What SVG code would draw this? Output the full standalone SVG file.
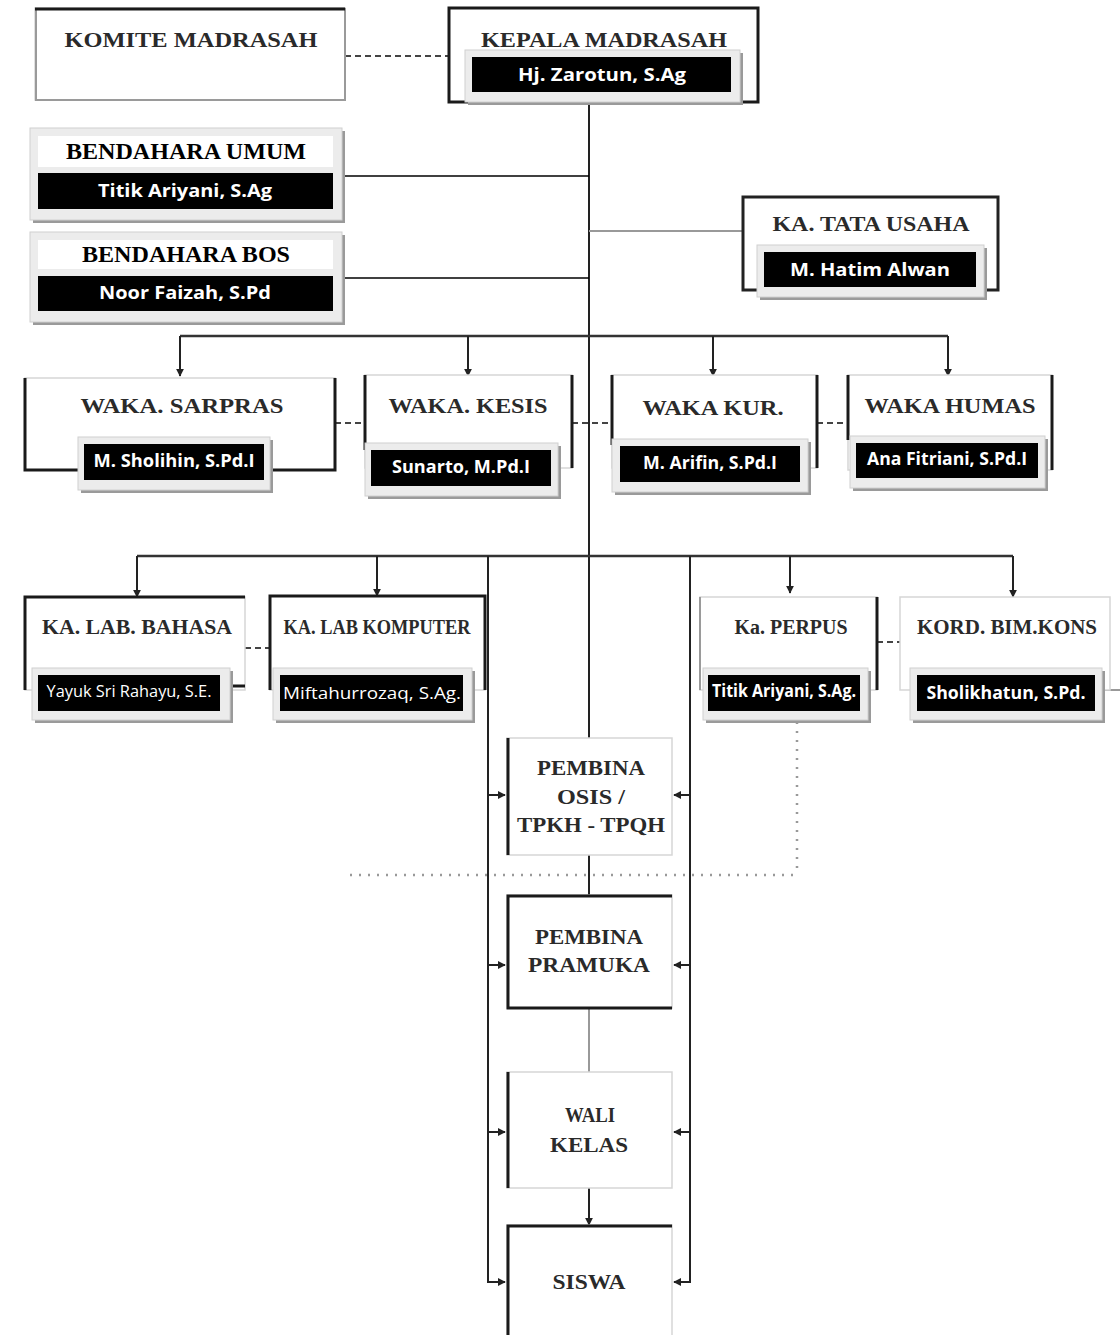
<svg xmlns="http://www.w3.org/2000/svg" width="1120" height="1335" viewBox="0 0 1120 1335">
<style>
.t{font-family:"Liberation Serif","Times New Roman",serif;font-weight:bold;fill:#2a2a2a;text-anchor:middle;font-size:20px}
.bt{font-family:"Liberation Serif","Times New Roman",serif;font-weight:bold;fill:#000;text-anchor:middle;font-size:23px}
.n{font-family:"Open Sans","Liberation Sans",sans-serif;font-weight:bold;fill:#fff;text-anchor:middle;font-size:18px}
.nr{font-family:"Open Sans","Liberation Sans",sans-serif;font-weight:normal;fill:#fff;text-anchor:middle;font-size:17px}
.fr{fill:#ececec;stroke:#d0d0d0;stroke-width:1}
.sh{fill:#9a9a9a}
.blk{fill:#000}
.bx{fill:#fff;stroke:#d6d6d6;stroke-width:1.5}
.e{stroke:#1a1a1a;stroke-width:3;fill:none}
.eg{stroke:#9a9a9a;stroke-width:2;fill:none}
.c{stroke:#222;stroke-width:2;fill:none}
.cg{stroke:#999;stroke-width:2;fill:none}
.d{stroke:#444;stroke-width:2;fill:none;stroke-dasharray:6 4}
.dot{stroke:#999;stroke-width:2.5;fill:none;stroke-dasharray:2 7}
</style>
<defs>
<marker id="ar" viewBox="0 0 10 10" refX="9" refY="5" markerWidth="4" markerHeight="4" orient="auto">
<path d="M0,0 L10,5 L0,10 z" fill="#222"/>
</marker>
</defs>
<rect width="1120" height="1335" fill="#fff"/>

<g id="connectors">
<line class="d" x1="345" y1="56" x2="449" y2="56"/>
<line class="c" x1="589" y1="102" x2="589" y2="738"/>
<line x1="338" y1="176" x2="589" y2="176" stroke="#000" stroke-width="1.5"/>
<line x1="338" y1="278" x2="589" y2="278" stroke="#000" stroke-width="1.5"/>
<line class="cg" x1="589" y1="231" x2="743" y2="231"/>
<line x1="180" y1="336" x2="948" y2="336" stroke="#333" stroke-width="2.5"/>
<line class="c" x1="180" y1="336" x2="180" y2="376" marker-end="url(#ar)"/>
<line class="c" x1="468" y1="336" x2="468" y2="376" marker-end="url(#ar)"/>
<line class="c" x1="713" y1="336" x2="713" y2="376" marker-end="url(#ar)"/>
<line class="c" x1="948" y1="336" x2="948" y2="376" marker-end="url(#ar)"/>
<line class="d" x1="335" y1="423" x2="365" y2="423"/>
<line class="d" x1="572" y1="423" x2="612" y2="423"/>
<line class="d" x1="817" y1="423" x2="848" y2="423"/>
<line x1="137" y1="556" x2="1013" y2="556" stroke="#333" stroke-width="2.5"/>
<line class="c" x1="137" y1="556" x2="137" y2="597" marker-end="url(#ar)"/>
<line class="c" x1="377" y1="556" x2="377" y2="596" marker-end="url(#ar)"/>
<line class="c" x1="790" y1="556" x2="790" y2="593" marker-end="url(#ar)"/>
<line class="c" x1="1013" y1="556" x2="1013" y2="597" marker-end="url(#ar)"/>
<path class="c" d="M488,556 V1282 H505" marker-end="url(#ar)"/>
<path class="c" d="M690,556 V1282 H674" marker-end="url(#ar)"/>
<line class="c" x1="488" y1="795" x2="505" y2="795" marker-end="url(#ar)"/>
<line class="c" x1="690" y1="795" x2="674" y2="795" marker-end="url(#ar)"/>
<line class="c" x1="488" y1="965" x2="505" y2="965" marker-end="url(#ar)"/>
<line class="c" x1="690" y1="965" x2="674" y2="965" marker-end="url(#ar)"/>
<line class="c" x1="488" y1="1132" x2="505" y2="1132" marker-end="url(#ar)"/>
<line class="c" x1="690" y1="1132" x2="674" y2="1132" marker-end="url(#ar)"/>
<line class="c" x1="589" y1="855" x2="589" y2="895"/>
<line class="cg" x1="589" y1="1008" x2="589" y2="1072"/>
<line class="c" x1="589" y1="1188" x2="589" y2="1225" marker-end="url(#ar)"/>
<line class="d" x1="245" y1="648" x2="270" y2="648"/>
<line class="d" x1="877" y1="642" x2="900" y2="642"/>
<line class="dot" x1="797" y1="722" x2="797" y2="875"/>
<line class="dot" x1="350" y1="875" x2="797" y2="875"/>
<line class="cg" x1="1102" y1="690" x2="1120" y2="690"/>
</g>

<g id="komite">
<rect class="bx" x="35" y="8" width="310" height="92"/>
<path class="eg" d="M36,8 V100 H345 V8"/>
<line class="e" x1="35" y1="9" x2="345" y2="9"/>
<text class="t" x="191" y="47" textLength="253" lengthAdjust="spacingAndGlyphs">KOMITE MADRASAH</text>
</g>

<g id="kepala">
<rect x="449" y="8" width="309" height="94" fill="#fff" stroke="#1a1a1a" stroke-width="3"/>
<text class="t" x="604" y="47" textLength="246" lengthAdjust="spacingAndGlyphs">KEPALA MADRASAH</text>
<rect class="sh" x="468" y="53" width="275" height="52"/>
<rect class="fr" x="465" y="50" width="275" height="52"/>
<rect class="blk" x="472" y="57" width="259" height="35"/>
<text class="n" x="602" y="81" font-size="20" textLength="168" lengthAdjust="spacingAndGlyphs">Hj. Zarotun, S.Ag</text>
</g>

<g id="bendahara-umum">
<rect class="sh" x="33" y="131" width="312" height="92"/>
<rect class="fr" x="30" y="128" width="312" height="92"/>
<rect x="38" y="136" width="295" height="31" fill="#fff"/>
<text class="bt" x="186" y="159" textLength="240" lengthAdjust="spacingAndGlyphs">BENDAHARA UMUM</text>
<rect class="blk" x="38" y="173" width="295" height="36"/>
<text class="n" x="185" y="197" font-size="20" textLength="174" lengthAdjust="spacingAndGlyphs">Titik Ariyani, S.Ag</text>
</g>

<g id="bendahara-bos">
<rect class="sh" x="33" y="235" width="312" height="90"/>
<rect class="fr" x="30" y="232" width="312" height="90"/>
<rect x="38" y="240" width="295" height="29" fill="#fff"/>
<text class="bt" x="186" y="262" textLength="208" lengthAdjust="spacingAndGlyphs">BENDAHARA BOS</text>
<rect class="blk" x="38" y="276" width="295" height="35"/>
<text class="n" x="185" y="299" font-size="20" textLength="172" lengthAdjust="spacingAndGlyphs">Noor Faizah, S.Pd</text>
</g>

<g id="tata-usaha">
<rect x="743" y="197" width="255" height="93" fill="#fff" stroke="#222" stroke-width="3"/>
<text class="t" x="871" y="231" font-size="17" textLength="197" lengthAdjust="spacingAndGlyphs">KA. TATA USAHA</text>
<rect class="sh" x="760" y="248" width="227" height="52"/>
<rect class="fr" x="757" y="245" width="227" height="52"/>
<rect class="blk" x="764" y="252" width="212" height="35"/>
<text class="n" x="870" y="276" font-size="19" textLength="160" lengthAdjust="spacingAndGlyphs">M. Hatim Alwan</text>
</g>

<g id="waka-sarpras">
<rect class="bx" x="25" y="378" width="310" height="92"/>
<path class="e" d="M25,378 V470 H335 V378"/>
<text class="t" x="182" y="413" textLength="203" lengthAdjust="spacingAndGlyphs">WAKA. SARPRAS</text>
<rect class="sh" x="81" y="440" width="192" height="53"/>
<rect class="fr" x="78" y="437" width="192" height="53"/>
<rect class="blk" x="84" y="444" width="180" height="36"/>
<text class="n" x="174" y="467" font-size="17" textLength="161" lengthAdjust="spacingAndGlyphs">M. Sholihin, S.Pd.I</text>
</g>

<g id="waka-kesis">
<rect class="bx" x="365" y="375" width="207" height="93"/>
<line class="e" x1="365" y1="375" x2="365" y2="450"/>
<line class="e" x1="572" y1="375" x2="572" y2="468"/>
<text class="t" x="468" y="413" textLength="159" lengthAdjust="spacingAndGlyphs">WAKA. KESIS</text>
<rect class="sh" x="368" y="446" width="193" height="53"/>
<rect class="fr" x="365" y="443" width="193" height="53"/>
<rect class="blk" x="371" y="450" width="180" height="36"/>
<text class="n" x="461" y="473" font-size="17" textLength="138" lengthAdjust="spacingAndGlyphs">Sunarto, M.Pd.I</text>
</g>

<g id="waka-kur">
<rect class="bx" x="612" y="375" width="205" height="93"/>
<line class="e" x1="612" y1="375" x2="612" y2="445"/>
<line class="e" x1="817" y1="375" x2="817" y2="468"/>
<text class="t" x="713" y="415" textLength="141" lengthAdjust="spacingAndGlyphs">WAKA KUR.</text>
<rect class="sh" x="615" y="442" width="196" height="53"/>
<rect class="fr" x="612" y="439" width="196" height="53"/>
<rect class="blk" x="620" y="446" width="180" height="36"/>
<text class="n" x="710" y="469" font-size="17" textLength="134" lengthAdjust="spacingAndGlyphs">M. Arifin, S.Pd.I</text>
</g>

<g id="waka-humas">
<rect class="bx" x="848" y="375" width="204" height="95"/>
<line class="e" x1="848" y1="375" x2="848" y2="440"/>
<line class="e" x1="1052" y1="375" x2="1052" y2="470"/>
<text class="t" x="950" y="413" textLength="171" lengthAdjust="spacingAndGlyphs">WAKA HUMAS</text>
<rect class="sh" x="853" y="439" width="195" height="52"/>
<rect class="fr" x="850" y="436" width="195" height="52"/>
<rect class="blk" x="856" y="443" width="182" height="35"/>
<text class="n" x="947" y="465" font-size="17" textLength="160" lengthAdjust="spacingAndGlyphs">Ana Fitriani, S.Pd.I</text>
</g>

<g id="lab-bahasa">
<rect class="bx" x="25" y="597" width="220" height="93"/>
<path class="e" d="M25,690 V597 H245"/>
<line class="e" x1="230" y1="686" x2="245" y2="686"/>
<text class="t" x="137" y="634" textLength="190" lengthAdjust="spacingAndGlyphs">KA. LAB. BAHASA</text>
<rect class="sh" x="35" y="671" width="198" height="52"/>
<rect class="fr" x="32" y="668" width="198" height="52"/>
<rect class="blk" x="38" y="675" width="182" height="36"/>
<text class="nr" x="129" y="697" font-size="16" textLength="165" lengthAdjust="spacingAndGlyphs">Yayuk Sri Rahayu, S.E.</text>
</g>

<g id="lab-komputer">
<rect class="bx" x="270" y="596" width="215" height="94"/>
<path class="e" d="M270,690 V596 H485 V690"/>
<text class="t" x="377" y="634" textLength="187" lengthAdjust="spacingAndGlyphs">KA. LAB KOMPUTER</text>
<rect class="sh" x="276" y="671" width="199" height="52"/>
<rect class="fr" x="273" y="668" width="199" height="52"/>
<rect class="blk" x="280" y="675" width="183" height="36"/>
<text class="nr" x="372" y="699" font-size="18" textLength="178" lengthAdjust="spacingAndGlyphs">Miftahurrozaq, S.Ag.</text>
</g>

<g id="perpus">
<rect class="bx" x="700" y="597" width="177" height="93"/>
<line class="eg" x1="700" y1="597" x2="700" y2="690"/>
<line class="e" x1="877" y1="597" x2="877" y2="690"/>
<text class="t" x="791" y="634" textLength="113" lengthAdjust="spacingAndGlyphs">Ka. PERPUS</text>
<rect class="sh" x="706" y="671" width="165" height="52"/>
<rect class="fr" x="703" y="668" width="165" height="52"/>
<rect class="blk" x="708" y="675" width="152" height="36"/>
<text class="n" x="784" y="697" font-size="16" textLength="144" lengthAdjust="spacingAndGlyphs">Titik Ariyani, S.Ag.</text>
</g>

<g id="kord-bimkons">
<rect class="bx" x="900" y="597" width="210" height="93"/>
<text class="t" x="1007" y="634" textLength="180" lengthAdjust="spacingAndGlyphs">KORD. BIM.KONS</text>
<rect class="sh" x="913" y="671" width="192" height="52"/>
<rect class="fr" x="910" y="668" width="192" height="52"/>
<rect class="blk" x="917" y="675" width="178" height="36"/>
<text class="n" x="1006" y="699" font-size="18" textLength="159" lengthAdjust="spacingAndGlyphs">Sholikhatun, S.Pd.</text>
</g>

<g id="pembina-osis">
<rect class="bx" x="507" y="738" width="165" height="117"/>
<line class="e" x1="508" y1="738" x2="508" y2="855"/>
<text class="t" x="591" y="775" textLength="108" lengthAdjust="spacingAndGlyphs">PEMBINA</text>
<text class="t" x="591" y="804" textLength="68" lengthAdjust="spacingAndGlyphs">OSIS /</text>
<text class="t" x="591" y="832" textLength="148" lengthAdjust="spacingAndGlyphs">TPKH - TPQH</text>
</g>

<g id="pembina-pramuka">
<rect class="bx" x="507" y="895" width="165" height="113"/>
<path class="e" d="M672,896 H508 V1008 H672"/>
<text class="t" x="589" y="944" textLength="108" lengthAdjust="spacingAndGlyphs">PEMBINA</text>
<text class="t" x="589" y="972" textLength="122" lengthAdjust="spacingAndGlyphs">PRAMUKA</text>
</g>

<g id="wali-kelas">
<rect class="bx" x="507" y="1072" width="165" height="116"/>
<line class="e" x1="508" y1="1072" x2="508" y2="1188"/>
<text class="t" x="590" y="1122" textLength="50" lengthAdjust="spacingAndGlyphs">WALI</text>
<text class="t" x="589" y="1152" textLength="78" lengthAdjust="spacingAndGlyphs">KELAS</text>
</g>

<g id="siswa">
<rect class="bx" x="507" y="1225" width="165" height="115"/>
<path class="e" d="M508,1335 V1226 H672"/>
<text class="t" x="589" y="1289" textLength="73" lengthAdjust="spacingAndGlyphs">SISWA</text>
</g>
</svg>
